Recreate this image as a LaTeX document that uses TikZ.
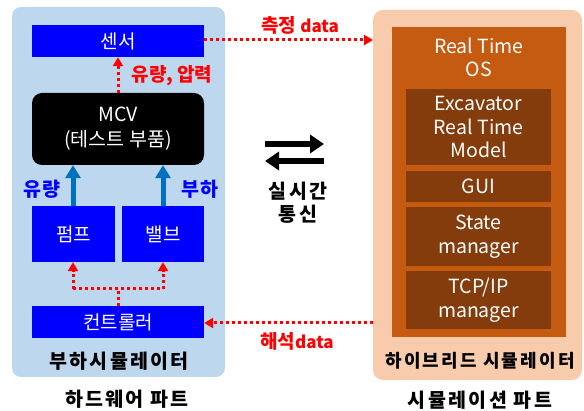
\documentclass[tikz,border=0pt]{standalone}
\usepackage{fontspec}
\setmainfont{Noto Sans CJK KR}
\newfontfamily\krsp[LetterSpace=12]{Noto Sans CJK KR}
\newfontfamily\krspb[LetterSpace=7]{Noto Sans CJK KR}
\usetikzlibrary{arrows.meta}
\definecolor{lblue}{HTML}{BDD7EE}
\definecolor{peach}{HTML}{F8CBAD}
\definecolor{orng}{HTML}{C55A11}
\definecolor{dbrown}{HTML}{843C0C}
\definecolor{pure}{HTML}{0000FF}
\definecolor{steel}{HTML}{0070C0}
\definecolor{rd}{HTML}{FF0000}
\newcommand{\dat}{{\fontsize{17}{20}\selectfont data}}
\tikzset{
  bluebox/.style={fill=pure, draw=none, text=white, font=\fontsize{19}{23}\selectfont},
  brbox/.style={fill=dbrown, draw=none, text=white, align=center, font=\fontsize{19.5}{23.5}\selectfont},
  reddot/.style={draw=rd, line width=3pt, dash pattern=on 3pt off 3pt, -{Triangle[length=9pt,width=10pt]}},
  reddotnt/.style={draw=rd, line width=3pt, dash pattern=on 3pt off 3pt},
  bluearr/.style={draw=steel, line width=5pt, -{Triangle[length=13pt,width=15pt]}},
  blackarr/.style={draw=black, line width=6pt, -{Triangle[length=14pt,width=18pt]}},
  redlbl/.style={text=rd, font=\fontsize{19}{23}\selectfont\bfseries},
  bluelbl/.style={text=pure, font=\krspb\fontsize{19.5}{23}\selectfont\bfseries},
  blklbl/.style={text=black, font=\krsp\fontsize{19.5}{23}\selectfont\bfseries, align=center},
}
\begin{document}
\begin{tikzpicture}[x=1pt,y=-1pt]
\useasboundingbox (0,0) rectangle (584,411);
% panels
\fill[lblue, rounded corners=9pt] (12,7) rectangle (225,377);
\fill[peach, rounded corners=10pt] (373,10) rectangle (582,380);
\fill[orng] (392,27) rectangle (566,337);
% left boxes
\node[bluebox, minimum width=172pt, minimum height=32pt] (sensor) at (118,41) {센서};
\node[fill=black, rounded corners=10pt, text=white, align=center, minimum width=172pt, minimum height=72pt, font=\fontsize{19.5}{25}\selectfont] (mcv) at (118,129) {MCV\\(테스트 부품)};
\node[bluebox, minimum width=83pt, minimum height=56pt] (pump) at (73.5,234) {펌프};
\node[bluebox, minimum width=82pt, minimum height=56pt] (valve) at (163,234) {밸브};
\node[bluebox, minimum width=172pt, minimum height=32pt] (ctrl) at (118,322) {컨트롤러};
% right inner boxes
\node[text=white, align=center, font=\fontsize{19.5}{23}\selectfont] (rtos) at (479,57) {Real Time\\OS};
\node[brbox, minimum width=145pt, minimum height=76pt] (exc) at (478.5,127) {Excavator\\Real Time\\Model};
\node[brbox, minimum width=145pt, minimum height=31pt] (gui) at (478.5,186.5) {GUI};
\node[brbox, minimum width=145pt, minimum height=59pt] (state) at (478.5,236.5) {State\\manager};
\node[brbox, minimum width=145pt, minimum height=58pt] (tcp) at (478.5,300) {TCP/IP\\manager};
% labels
\node[blklbl] (lsim) at (119,361) {부하시뮬레이터};
\node[blklbl] (hw) at (127,399) {하드웨어 파트};
\node[blklbl, font=\krsp\fontsize{18}{22}\selectfont\bfseries] (hsim) at (480,361) {하이브리드 시뮬레이터};
\node[blklbl] (swp) at (480,400) {시뮬레이션 파트};
\node[redlbl, anchor=west] (flow) at (128,76) {유량, 압력};
\node[bluelbl] (lf) at (42,189) {유량};
\node[bluelbl] (ll) at (200,189) {부하};
\node[redlbl] (meas) at (300,25) {측정 \dat};
\node[redlbl] (anal) at (297,341) {해석\dat};
\node[blklbl] (rt) at (298,203) {실시간\\통신};
% coordinates
\coordinate (rp1) at (373,40);
\coordinate (rp2) at (373,323);
\coordinate (jn) at (118,289);
\coordinate (jl) at (73,289);
\coordinate (jr) at (163,289);
\coordinate (a1) at (265,144);
\coordinate (a2) at (324,144);
\coordinate (b1) at (324,161);
\coordinate (b2) at (265,161);
% arrows
\draw[reddot] (sensor.east |- rp1) -- (rp1);
\draw[reddot] (rp2) -- (ctrl.east |- rp2);
\draw[reddot] (mcv.north) -- (sensor.south);
\draw[reddotnt] (ctrl.north) -- (jn);
\draw[reddotnt] (jl) -- (jr);
\draw[reddot] (jl) -- (jl |- pump.south);
\draw[reddot] (jr) -- (jr |- valve.south);
\draw[bluearr] (pump.north -| jl) -- (mcv.south -| jl);
\draw[bluearr] (valve.north -| jr) -- (mcv.south -| jr);
\draw[blackarr] (a1) -- (a2);
\draw[blackarr] (b1) -- (b2);
\end{tikzpicture}
\end{document}
